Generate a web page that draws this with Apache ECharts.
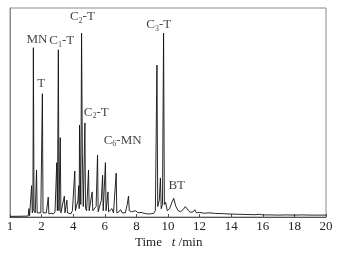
<!DOCTYPE html>
<html><head><meta charset="utf-8">
<script src="https://cdn.jsdelivr.net/npm/echarts@6/dist/echarts.min.js"></script>
<style>html,body{margin:0;padding:0;background:#fff}#c{width:341px;height:256px}</style>
</head><body><div id="c"></div>
<script>
// Chromatogram trace (time in min, relative intensity)
const times = [0,1.0,1.15,1.2,1.24,1.33,1.37,1.41,1.45,1.48,1.52,1.6,1.68,1.72,1.8,1.95,2.05,2.09,2.2,2.3,2.42,2.46,2.6,2.75,2.85,2.96,3.0,3.06,3.1,3.18,3.22,3.3,3.44,3.48,3.6,3.64,3.75,3.85,3.95,4.1,4.14,4.2,4.3,4.35,4.38,4.4,4.45,4.48,4.53,4.58,4.64,4.74,4.78,4.85,4.97,5.01,5.1,5.2,5.24,5.35,5.45,5.54,5.58,5.7,5.78,5.86,5.9,6.04,6.08,6.2,6.24,6.35,6.45,6.55,6.72,6.76,6.9,7.0,7.1,7.3,7.42,7.5,7.55,7.7,7.8,7.95,8.1,8.3,8.5,8.7,8.9,9.1,9.2,9.3,9.35,9.45,9.52,9.57,9.65,9.72,9.77,9.85,9.95,10.1,10.25,10.36,10.5,10.65,10.8,10.95,11.1,11.16,11.3,11.45,11.6,11.7,11.8,12.0,12.3,12.6,13.0,13.5,14.0,14.5,15.0,15.5,15.8,16.0,16.5,17.0,17.5,18.0,18.5,19.0,19.5,20.0];
const signal = [0.3,0.4,0.5,4,0.6,1,15,2,3,81,3,2,22.5,2,1.5,2,59,2,1.5,2,9.5,1.5,1.8,1.5,2.5,26,3,80,3,38,2,2.5,10,2,8,2,2.5,1.5,3,22,3,2.5,8,15,4,44,20,6,88,30,5,45,4,3,22.5,3,3,12,3,2.5,5,29.6,2.5,3,8,20,3,26,3,12,2.5,2,4,2,21,2,2.5,3.5,2,2,6,10,3,2.5,2,3,2,2.2,1.7,1.5,1.5,1.8,3,72.7,5,8,18.7,4,6,88,6,7,3,4,7,9,5,3,2.5,3.5,5,5,3,2.2,2.5,3.5,2,2.2,1.8,2,1.7,1.6,1.4,1.3,1.2,1.1,1.3,1,1,0.9,1,0.9,1,0.9,0.9,0.9];
// Peak annotations
const peakLabels = ['{n|MN}','{n|C}{s|1}{n|-T}','{n|T}','{n|C}{s|2}{n|-T}','{n|C}{s|2}{n|-T}','{n|C}{s|6}{n|-MN}','{n|C}{s|3}{n|-T}','{n|BT}'];
const peakLabelT = [1.71,3.28,1.98,4.58,5.46,7.13,9.41,10.55];
const peakLabelV = [84.7,84.2,64,95.7,50.2,36.8,91.9,14.8];
// Axis
const xTicks = [0,2,4,6,8,10,12,14,16,18,20];
const xTickText = ['1','2','4','6','8','10','12','14','16','18','20'];

const chart = echarts.init(document.getElementById('c'));
const serif = "'Liberation Serif', 'Times New Roman', serif";
chart.setOption({
  animation:false,
  grid:{left:10,right:15,top:8,bottom:39,show:true,borderColor:'#8a8a8a',borderWidth:1},
  xAxis:{type:'value',min:0,max:20,interval:2,
    axisLine:{lineStyle:{color:'#555',width:1}},
    axisTick:{inside:true,length:3,lineStyle:{color:'#555'}},
    splitLine:{show:false},
    axisLabel:{fontFamily:serif,fontSize:13,color:'#222',margin:3,
      formatter:v=>{const i=xTicks.indexOf(v);return i>=0?xTickText[i]:'';}}},
  yAxis:{type:'value',min:0,max:100,axisLabel:{show:false},axisTick:{show:false},splitLine:{show:false},
    axisLine:{show:true,lineStyle:{color:'#8a8a8a'}}},
  graphic:[{type:'text',left:135,top:236,style:{text:'{n|Time}   {i|t} {n|/min}',fontFamily:serif,fontSize:13,fill:'#222',
    rich:{n:{fontFamily:serif,fontSize:13,fill:'#222'},i:{fontFamily:serif,fontSize:13,fontStyle:'italic',fill:'#222'}}}}],
  series:[
    {type:'line',data:times.map((t,i)=>[t,signal[i]]),showSymbol:false,lineStyle:{color:'#111',width:0.9},z:2},
    {type:'scatter',symbolSize:0,z:3,
      data:peakLabelT.map((t,i)=>({value:[t,peakLabelV[i]],name:peakLabels[i]})),
      label:{show:true,position:'inside',formatter:p=>p.name,
        rich:{n:{fontFamily:serif,fontSize:13,color:'#111'},s:{fontFamily:serif,fontSize:8,color:'#111',padding:[8,0,0,0]}}}}
  ]
});
</script></body></html>
